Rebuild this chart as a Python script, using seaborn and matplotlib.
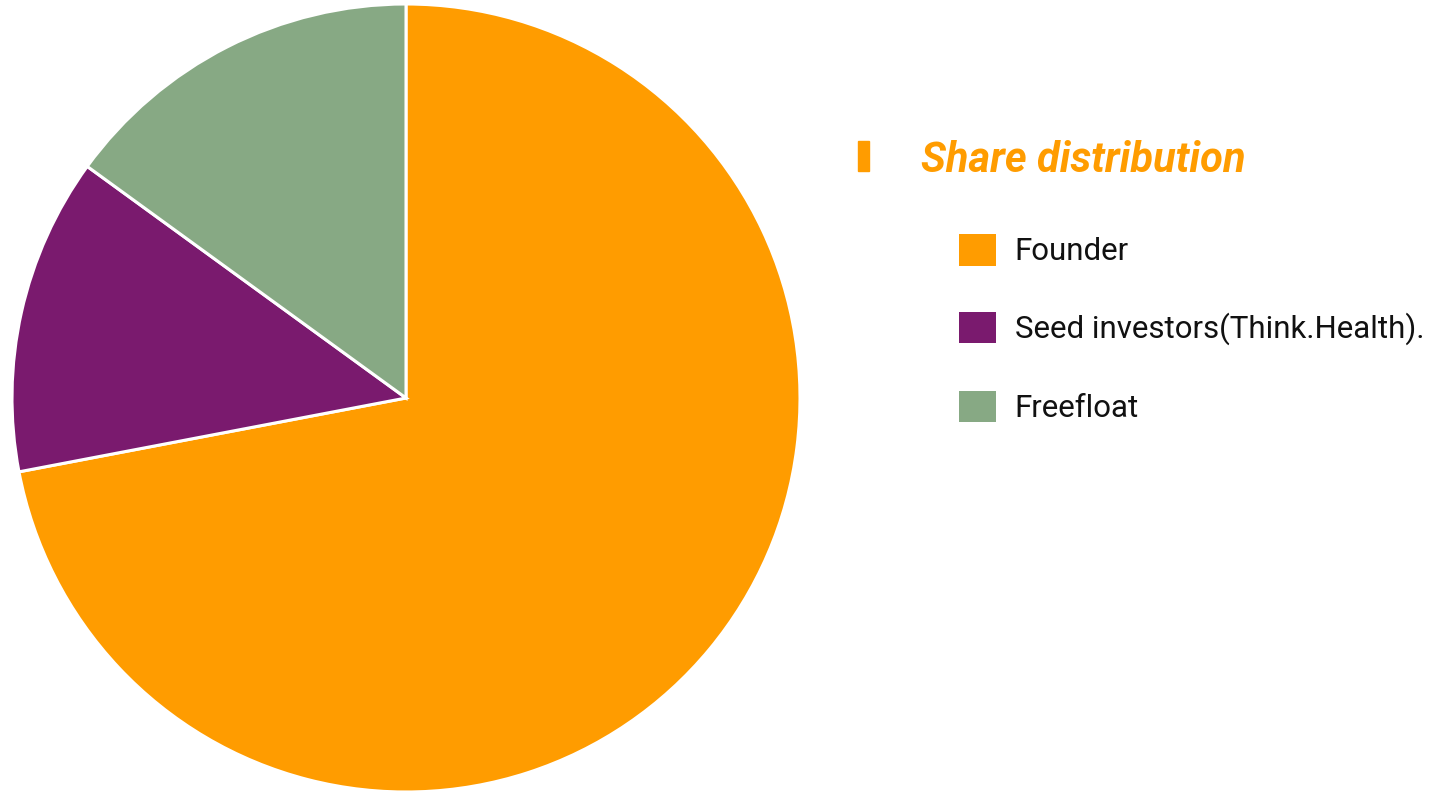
import matplotlib
matplotlib.use("Agg")
import matplotlib.pyplot as plt
from matplotlib.patches import Patch, Rectangle
import seaborn as sns

# share distribution data
labels = ["Founder", "Seed investors(Think.Health).", "Freefloat"]
shares = [72, 13, 15]
colors = ["#FF9C00", "#7A1A6E", "#87A984"]
title = "Share distribution"

sns.set_theme(style="white")
plt.rcParams['font.family'] = ['Roboto', 'DejaVu Sans']

fig = plt.figure(figsize=(14.32, 7.92), dpi=100)
ax = fig.add_axes([12 / 1432, 0.0, 788 / 1432, 788 / 792])

ax.pie(shares, colors=colors, startangle=90, counterclock=False,
       wedgeprops={'edgecolor': 'white', 'linewidth': 2.2})
ax.set_xlim(-1.0, 1.0)
ax.set_ylim(-1.0, 1.0)
ax.set_aspect('equal')
ax.axis('off')

# title with small orange bar marker
fig.patches.append(Rectangle((858 / 1432, 1 - 171 / 792), 11 / 1432, 30 / 792,
                             transform=fig.transFigure, color=colors[0]))
fig.text(921 / 1432, 1 - 172 / 792, title, fontsize=30, fontweight='bold',
         fontstyle='italic', color=colors[0], ha='left', va='baseline')

handles = [Patch(facecolor=c, edgecolor='none') for c in colors]
fig.legend(handles, labels, loc='upper left', bbox_to_anchor=(959 / 1432, 1 - 234 / 792),
           frameon=False, fontsize=22.5, borderpad=0, borderaxespad=0,
           handlelength=1.18, handleheight=1.18, handletextpad=0.6,
           labelspacing=1.45, labelcolor='#111111')

fig.savefig("out.png", dpi=100)
